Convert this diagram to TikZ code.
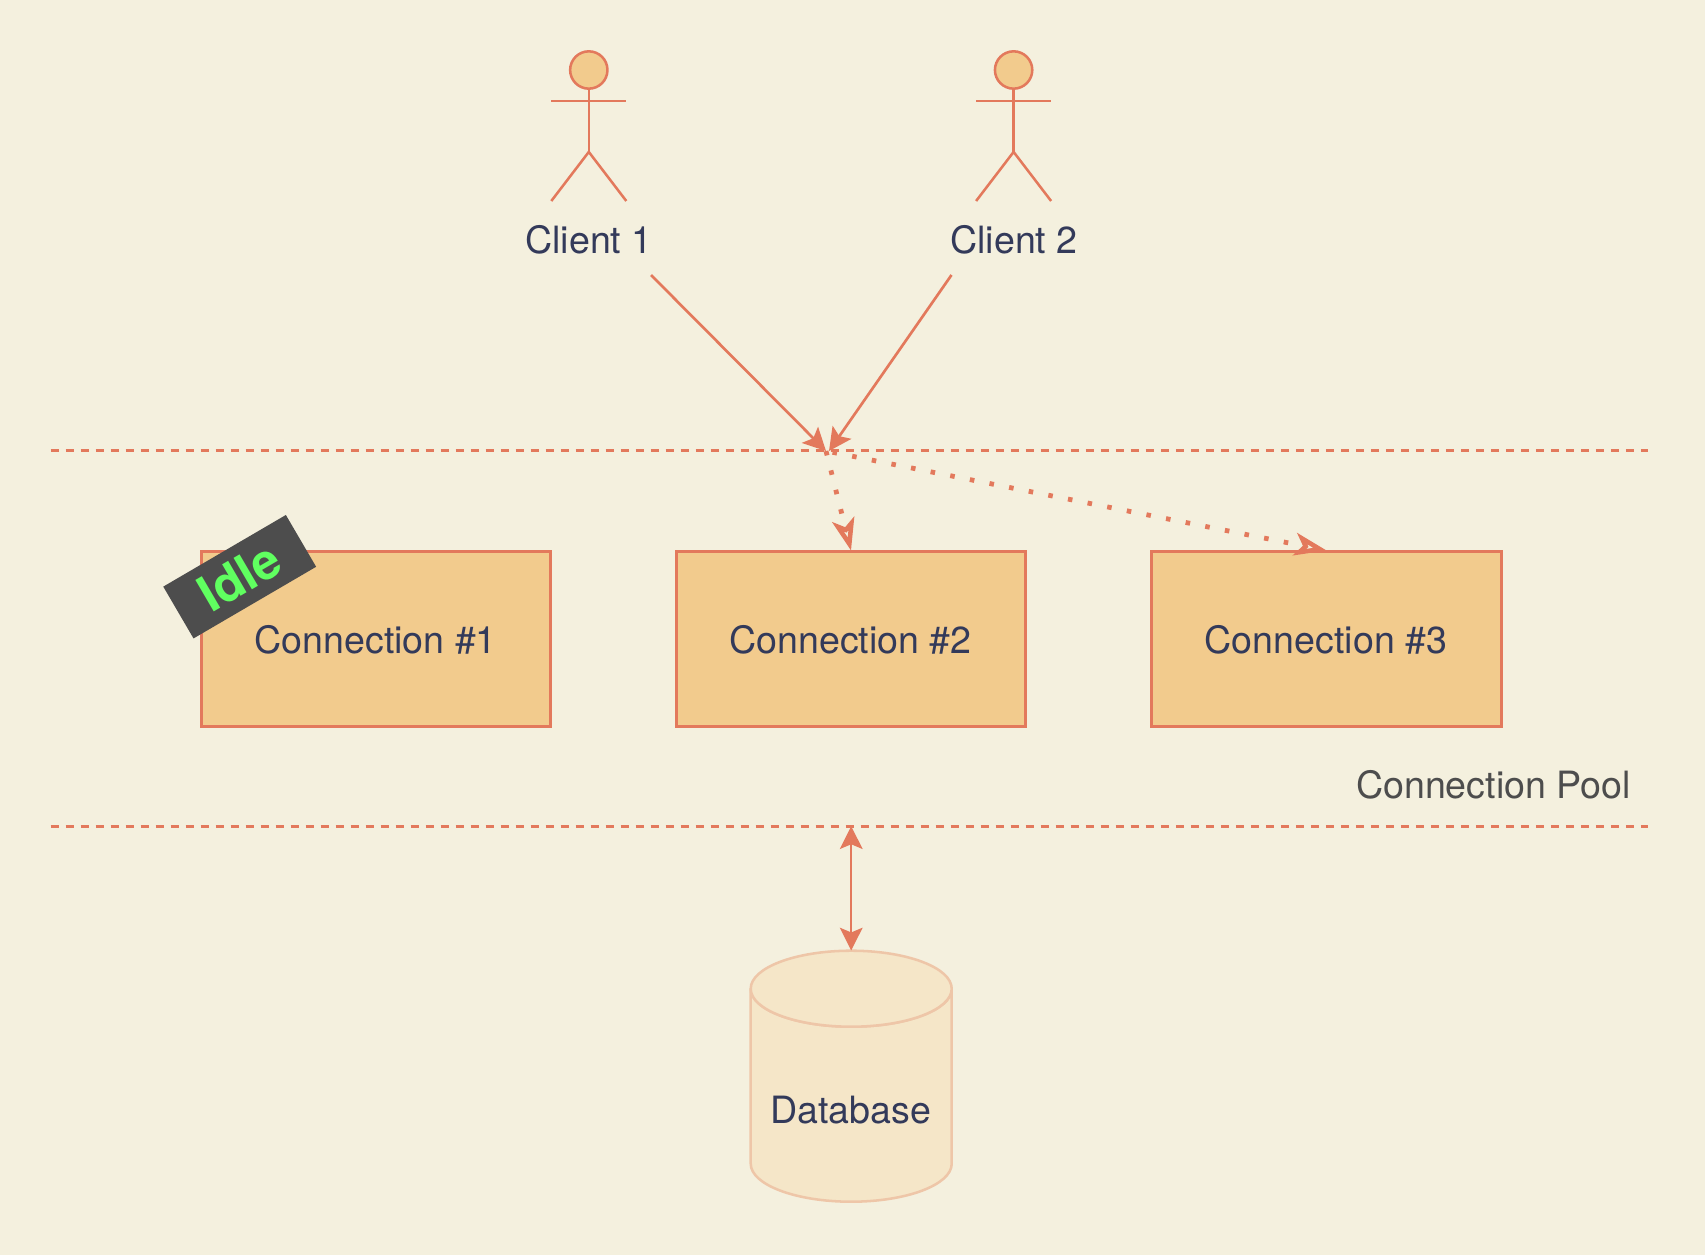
\documentclass[tikz,border=0pt]{standalone}
\usepackage{fontspec}
\setmainfont{TeX Gyre Heros}
\usetikzlibrary{arrows.meta}
\definecolor{bg}{HTML}{F4F0DE}
\definecolor{edgec}{HTML}{E3795C}
\definecolor{boxfill}{HTML}{F2CB8D}
\definecolor{dbfill}{HTML}{F5E6C8}
\definecolor{dbline}{HTML}{EEC6A8}
\definecolor{ink}{HTML}{333A5A}
\definecolor{tagbg}{HTML}{4D4D4D}
\definecolor{taggreen}{HTML}{60FF60}
\tikzset{
  x=0.75pt, y=-0.75pt,
  txt/.style={font=\fontsize{28.2pt}{32pt}\selectfont, text=ink, inner sep=0pt, anchor=base},
  conn/.style={draw=edgec, fill=boxfill, line width=2.1pt, minimum width=262pt, minimum height=131pt, inner sep=0pt,
    font=\fontsize{28.2pt}{32pt}\selectfont, text=ink, text height=21.7pt, text depth=0pt, execute at end node={\hspace{0.8pt}}},
  stick/.style={draw=edgec, line width=1.9pt},
  link/.style={draw=edgec, line width=2pt, -{Stealth[length=17pt,width=17pt,inset=3.5pt]}},
  both/.style={draw=edgec, line width=1.8pt, {Stealth[length=17pt,width=17pt,inset=3.5pt]}-{Stealth[length=17pt,width=17pt,inset=3.5pt]}},
  dots/.style={draw=edgec, line width=3.6pt, dash pattern=on 3.4pt off 11.6pt,
    -{Stealth[length=24pt,width=17pt,inset=6pt,line width=3.4pt,open]}},
  bound/.style={draw=edgec, line width=2pt, dash pattern=on 6pt off 5.25pt},
}
\begin{document}
\begin{tikzpicture}
\useasboundingbox (0,0) rectangle (1705,1255);
\fill[bg] (0,0) rectangle (1705,1255);

% pool bounds
\node[minimum width=1197.75pt, minimum height=281.25pt, inner sep=0pt] (pool) at (849.5,638.5) {};
\draw[bound] (pool.north west) -- (pool.north east);
\draw[bound] (pool.south west) -- (pool.south east);
\node[txt, text=tagbg] (poollabel) at (1493.5,798) {Connection Pool};

% actors
\foreach \n/\cx in {a1/588.8, a2/1013.6}{
  \node[circle, draw=edgec, fill=boxfill, line width=1.9pt, minimum size=28pt, inner sep=0pt] (\n) at (\cx,70) {};
  \draw[stick] (\n.south) -- ++(0,62) coordinate (\n hip);
  \draw[stick] ([xshift=-37.5*0.75pt]\n.south |- 0,101) -- ([xshift=37.5*0.75pt]\n.south |- 0,101);
  \draw[stick] ([xshift=-37.5*0.75pt]\n hip |- 0,201) -- (\n hip) -- ([xshift=37.5*0.75pt]\n hip |- 0,201);
}
\node[txt] (c1) at (589,253.5) {Client 1};
\node[txt] (c2) at (1014,253.5) {Client 2};

% connection boxes
\node[conn] (k1) at (376.2,639.2) {Connection \#1};
\node[conn] (k2) at (851,639.2) {Connection \#2};
\node[conn] (k3) at (1326.5,639.2) {Connection \#3};

% idle tag
\node[fill=tagbg, text=taggreen, font=\bfseries\fontsize{37.5pt}{40pt}\selectfont, rotate=30.3,
  minimum width=106.5pt, minimum height=45pt, inner sep=0pt] (tag) at (239.7,576.7) {Idle};

% client links
\coordinate (c1out) at (651,275);
\coordinate (c2out) at (951.5,275);
\coordinate (j) at (826,451);
\coordinate (j2) at (829,451);
\draw[link] (c1out) -- (j);
\draw[link] (c2out) -- (j2);
\draw[dots] (j) -- (k2.north);
\draw[dots, dash phase=10pt] (j) -- (k3.north);

% database
\node[minimum width=150.75pt, minimum height=188.25pt, inner sep=0pt] (db) at (851.2,1076.2) {};
\draw[draw=dbline, fill=dbfill, line width=1.9pt]
  (750.7,988.7) arc[start angle=180, end angle=360, x radius=100.5, y radius=-38]
  -- (951.7,1163.7) arc[start angle=0, end angle=-180, x radius=100.5, y radius=-38]
  -- cycle;
\draw[draw=dbline, fill=dbfill, line width=1.9pt] (851.2,988.7) ellipse [x radius=100.5, y radius=38];
\node[txt] (dbl) at (850.5,1123.2) {Database};
\draw[both] (db.north |- pool.south) -- (db.north);
\end{tikzpicture}
\end{document}
